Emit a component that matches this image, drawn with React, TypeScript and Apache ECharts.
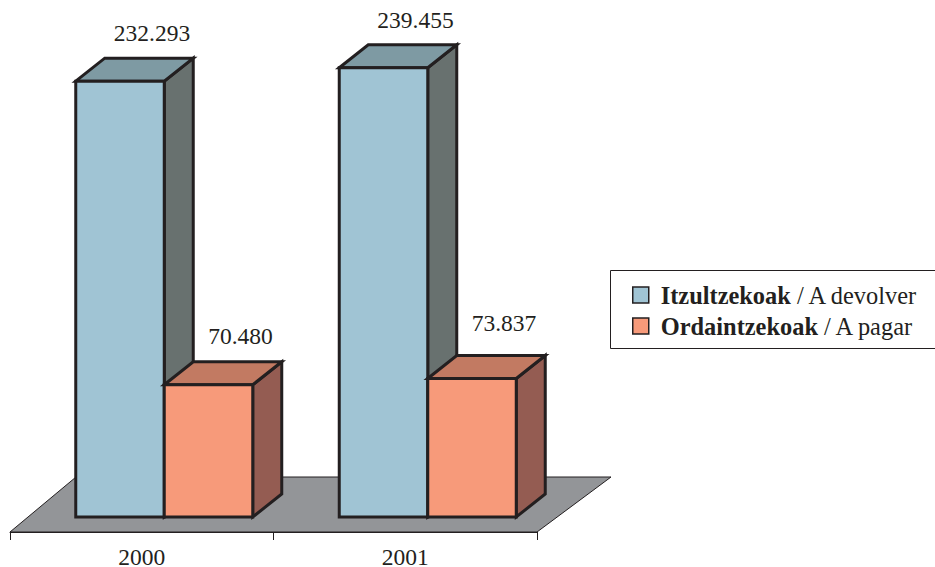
import React, { useEffect, useRef } from "react";
import * as echarts from "echarts";

const categories = ["2000", "2001"];
const devolverValues = [232293, 239455];
const pagarValues = [70480, 73837];
const devolverName = "Itzultzekoak / A devolver";
const pagarName = "Ordaintzekoak / A pagar";

const FONT = "Liberation Serif";
const INK = "#231f20";
const DEPTH_X = 29;
const DEPTH_Y = 23;
const BAR_W = 88.5;
const FLOOR_DX = 66;
const FLOOR_DY = 55;
const FLOOR_FRONT = 15;

const fmt = (v: number) => v.toLocaleString("de-DE");

function barRenderer(slot: number, front: string, top: string, side: string, gaps: number[]) {
  return (p: any, api: any) => {
    const base = api.coord([api.value(0), 0]);
    const head = api.coord([api.value(0), api.value(1)]);
    const cluster = base[0] + 22.5;
    const x0 = cluster + (slot - 1) * BAR_W;
    const x1 = x0 + BAR_W;
    const y0 = base[1];
    const y1 = head[1];
    const style = (fill: string) => ({ fill, stroke: INK, lineWidth: 3, lineJoin: "miter" });
    return {
      type: "group",
      children: [
        {
          type: "polygon",
          shape: { points: [[x1, y1], [x1 + DEPTH_X, y1 - DEPTH_Y], [x1 + DEPTH_X, y0 - DEPTH_Y], [x1, y0]] },
          style: style(side),
        },
        {
          type: "polygon",
          shape: { points: [[x0, y1], [x0 + DEPTH_X, y1 - DEPTH_Y], [x1 + DEPTH_X, y1 - DEPTH_Y], [x1, y1]] },
          style: style(top),
        },
        { type: "rect", shape: { x: x0, y: y1, width: BAR_W, height: y0 - y1 }, style: style(front) },
        {
          type: "text",
          style: {
            x: (x0 + x1) / 2 + 32,
            y: y1 - gaps[p.dataIndex],
            text: fmt(api.value(1)),
            font: `23.5px "${FONT}"`,
            fill: INK,
            align: "center",
            verticalAlign: "middle",
          },
        },
      ],
    };
  };
}

function floorRenderer(_p: any, api: any) {
  const band = api.size([1, 0])[0];
  const origin = api.coord([0, 0]);
  const left = origin[0] - band / 2;
  const right = left + band * categories.length;
  const front = origin[1] + FLOOR_FRONT;
  const back = front - FLOOR_DY;
  const pts = [[left, front], [left + FLOOR_DX, back], [right + 74, back], [right, front]];
  return {
    type: "polygon",
    shape: { points: pts },
    style: { fill: "#939598", stroke: INK, lineWidth: 1 },
  };
}

export default function App() {
  const ref = useRef<HTMLDivElement>(null);
  useEffect(() => {
    const chart = echarts.init(ref.current!, undefined, { renderer: "svg" });
    const rich = {
      b: { fontFamily: FONT, fontSize: 24.4, fontWeight: "bold", color: INK },
      r: { fontFamily: FONT, fontSize: 24.4, color: INK },
    };
    chart.setOption({
      animation: false,
      backgroundColor: "#ffffff",
      grid: { left: 10, width: 527, top: 17, height: 500, containLabel: false, outerBoundsMode: "none" },
      xAxis: {
        type: "category",
        data: categories,
        offset: FLOOR_FRONT,
        z: 5,
        axisLine: { show: true, onZero: false, lineStyle: { color: INK, width: 1 } },
        axisTick: { show: true, length: 8, lineStyle: { color: INK, width: 1 } },
        axisLabel: { fontFamily: FONT, fontSize: 23.5, lineHeight: 18, color: INK, margin: 16 },
      },
      yAxis: { type: "value", min: 0, max: 266500, show: false },
      legend: {
        left: 632,
        top: 283,
        orient: "vertical",
        itemWidth: 16,
        itemHeight: 16,
        itemGap: 7,
        padding: 0,
        icon: "rect",
        selectedMode: false,
        data: [
          { name: devolverName, itemStyle: { color: "#A0C4D4", borderColor: INK, borderWidth: 1.5 } },
          { name: pagarName, itemStyle: { color: "#F79A7A", borderColor: INK, borderWidth: 1.5 } },
        ],
        formatter: (name: string) => {
          const i = name.indexOf(" / ");
          return `{b|${name.slice(0, i)}}{r|${name.slice(i)}}`;
        },
        textStyle: { rich, padding: [0, 0, 0, 7] },
      },
      graphic: [
        {
          type: "rect",
          shape: { x: 610.5, y: 270.5, width: 340, height: 78 },
          style: { fill: "none", stroke: INK, lineWidth: 1 },
          z: 10,
        },
      ],
      series: [
        {
          name: "floor",
          type: "custom",
          renderItem: floorRenderer,
          data: [[0, 0]],
          z: 1,
          silent: true,
        },
        {
          name: devolverName,
          type: "custom",
          renderItem: barRenderer(0, "#A0C4D4", "#7E9AA3", "#68716F", [48, 48]),
          data: devolverValues.map((v, i) => [i, v]),
          itemStyle: { color: "#A0C4D4" },
          z: 2,
          silent: true,
        },
        {
          name: pagarName,
          type: "custom",
          renderItem: barRenderer(1, "#F79A7A", "#C27A62", "#945C52", [49, 55]),
          data: pagarValues.map((v, i) => [i, v]),
          itemStyle: { color: "#F79A7A" },
          z: 3,
          silent: true,
        },
      ],
    });
    return () => chart.dispose();
  }, []);
  return <div ref={ref} style={{ position: "absolute", left: 0, top: 0, width: 935, height: 567 }} />;
}
